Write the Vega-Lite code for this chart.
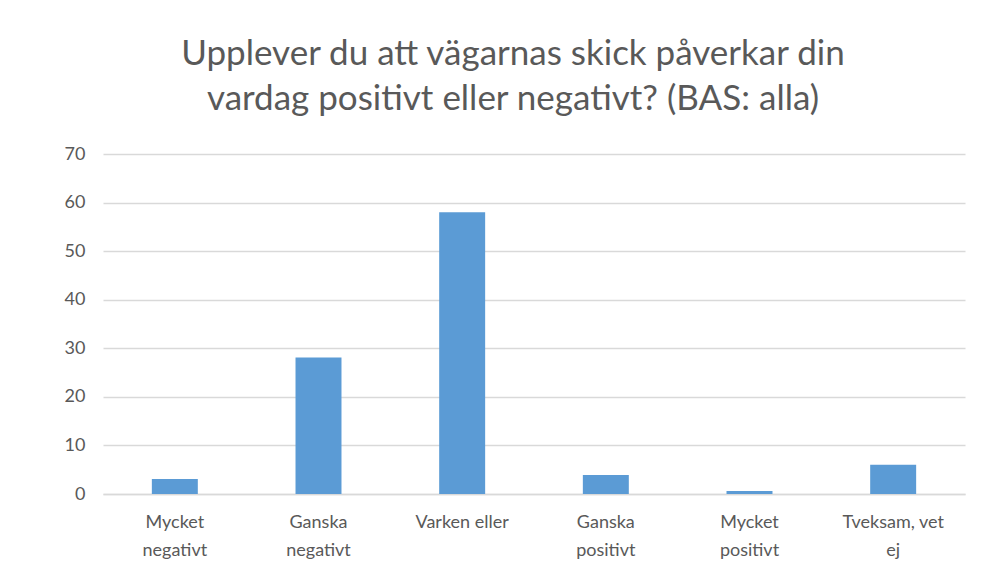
{
  "$schema": "https://vega.github.io/schema/vega-lite/v6.json",
  "width": 862,
  "height": 340,
  "autosize": "none",
  "padding": {"left": 103, "top": 154, "right": 29, "bottom": 89},
  "background": "white",
  "title": {
    "text": ["Upplever du att vägarnas skick påverkar din", "vardag positivt eller negativt? (BAS: alla)"],
    "font": "Lato",
    "fontSize": 35,
    "fontWeight": "normal",
    "color": "#595959",
    "lineHeight": 45,
    "anchor": "middle",
    "offset": 28,
    "dx": -21
  },
  "data": {
    "values": [
      {"svar": "Mycket negativt", "andel": 3.1},
      {"svar": "Ganska negativt", "andel": 28.1},
      {"svar": "Varken eller", "andel": 58.0},
      {"svar": "Ganska positivt", "andel": 3.9},
      {"svar": "Mycket positivt", "andel": 0.6},
      {"svar": "Tveksam, vet ej", "andel": 6.0}
    ]
  },
  "mark": {"type": "bar", "color": "#5B9BD5"},
  "encoding": {
    "x": {
      "field": "svar",
      "type": "nominal",
      "sort": null,
      "scale": {"paddingInner": 0.68, "paddingOuter": 0.34},
      "axis": {
        "title": null,
        "labelAngle": 0,
        "labelFont": "Lato",
        "labelFontSize": 18,
        "labelColor": "#595959",
        "labelPadding": 19,
        "labelLineHeight": 28,
        "labelBaseline": "top",
        "labelExpr": "datum.value == 'Tveksam, vet ej' ? ['Tveksam, vet', 'ej'] : datum.value == 'Varken eller' ? 'Varken eller' : split(datum.value, ' ')",
        "ticks": false,
        "domain": true,
        "domainColor": "#d9d9d9",
        "domainWidth": 1.5
      }
    },
    "y": {
      "field": "andel",
      "type": "quantitative",
      "scale": {"domain": [0, 70]},
      "axis": {
        "title": null,
        "values": [0, 10, 20, 30, 40, 50, 60, 70],
        "labelFont": "Lato",
        "labelFontSize": 18,
        "labelColor": "#595959",
        "labelPadding": 18,
        "ticks": false,
        "domain": false,
        "grid": true,
        "gridColor": "#d9d9d9",
        "gridWidth": 1.5
      }
    }
  },
  "config": {"view": {"stroke": null}}
}
